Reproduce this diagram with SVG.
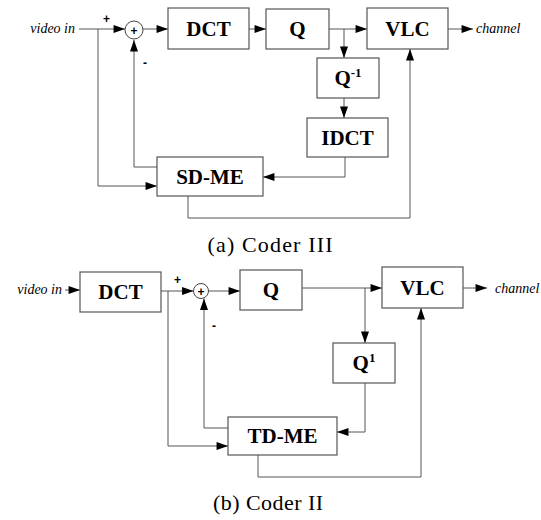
<svg xmlns="http://www.w3.org/2000/svg" width="541" height="520" viewBox="0 0 541 520">
<defs>
<marker id="ah" viewBox="0 0 10 7" refX="10" refY="3.5" markerWidth="12" markerHeight="8" markerUnits="userSpaceOnUse" orient="auto">
<path d="M0,0 L10,3.5 L0,7 z" fill="#000"/>
</marker>
<style>
.box{fill:#fff;stroke:#555;stroke-width:1.2}
.sum{fill:#fff;stroke:#444;stroke-width:1}
.ln{fill:none;stroke:#555;stroke-width:1}
.arr{fill:none;stroke:#555;stroke-width:1;marker-end:url(#ah)}
.lbl{font-family:"Liberation Serif","Times New Roman",serif;font-weight:bold;font-size:21px;text-anchor:middle;fill:#000}
.sup{font-size:13px}
.io{font-family:"Liberation Serif","Times New Roman",serif;font-style:italic;font-size:14px;fill:#000}
.sgn{font-family:"Liberation Sans",Arial,sans-serif;font-weight:bold;font-size:12px;fill:#000}
.pl{font-family:"Liberation Sans",Arial,sans-serif;font-weight:bold;font-size:12px;text-anchor:middle;fill:#000}
.cap{font-family:"Liberation Serif","Times New Roman",serif;font-size:22px;text-anchor:middle;fill:#000}
</style>
</defs>
<rect width="541" height="520" fill="#fff"/>

<!-- Coder III -->
<g id="connectors-a">
<line class="arr" x1="79" y1="29" x2="125" y2="29"/>
<line class="arr" x1="143" y1="29" x2="168" y2="29"/>
<line class="arr" x1="249" y1="29" x2="266" y2="29"/>
<line class="arr" x1="329" y1="29" x2="367" y2="29"/>
<line class="arr" x1="344" y1="29" x2="344" y2="58"/>
<line class="arr" x1="344" y1="98" x2="344" y2="118"/>
<polyline class="arr" points="345,157 345,177 263,177"/>
<polyline class="arr" points="188,196 188,218 410,218 410,49"/>
<line class="arr" x1="448" y1="29" x2="473" y2="29"/>
<polyline class="arr" points="98,29 98,186 157,186"/>
<polyline class="arr" points="157,167 134,167 134,40"/>
</g>
<g id="videoin-a"><text class="io" x="75" y="33" text-anchor="end">video in</text></g>
<g id="sum-a">
<circle class="sum" cx="134" cy="30" r="9"/>
<text class="pl" x="134" y="34.5">+</text>
<text class="sgn" x="103" y="23">+</text>
<text class="sgn" x="143" y="67">-</text>
</g>
<g id="dct-a"><rect class="box" x="168" y="8" width="81" height="41"/><text class="lbl" x="208.5" y="36">DCT</text></g>
<g id="q-a"><rect class="box" x="266" y="9" width="63" height="40"/><text class="lbl" x="297.5" y="36">Q</text></g>
<g id="vlc-a"><rect class="box" x="367" y="8" width="81" height="41"/><text class="lbl" x="407.5" y="36">VLC</text></g>
<g id="channel-a"><text class="io" x="476" y="33">channel</text></g>
<g id="qinv-a"><rect class="box" x="317" y="58" width="62" height="40"/><text class="lbl" x="348" y="85">Q<tspan class="sup" dy="-8">-1</tspan></text></g>
<g id="idct-a"><rect class="box" x="307" y="118" width="81" height="39"/><text class="lbl" x="347.5" y="145">IDCT</text></g>
<g id="sdme-a"><rect class="box" x="157" y="157" width="106" height="39"/><text class="lbl" x="210" y="184">SD-ME</text></g>
<text class="cap" x="270" y="252" textLength="125" lengthAdjust="spacing">(a) Coder III</text>

<!-- Coder II -->
<g id="connectors-b">
<line class="arr" x1="65" y1="290" x2="80" y2="290"/>
<line class="arr" x1="161" y1="291" x2="193.5" y2="291"/>
<line class="arr" x1="208.5" y1="291" x2="240" y2="291"/>
<line class="arr" x1="302" y1="288" x2="382" y2="288"/>
<line class="arr" x1="365" y1="288" x2="365" y2="343"/>
<polyline class="arr" points="365,383 365,432 337,432"/>
<polyline class="arr" points="258,455 258,477 421,477 421,308"/>
<line class="arr" x1="463" y1="288" x2="487" y2="288"/>
<polyline class="arr" points="168,291 168,446 228,446"/>
<polyline class="arr" points="228,428 204,428 204,298.5"/>
</g>
<g id="videoin-b"><text class="io" x="62" y="294" text-anchor="end">video in</text></g>
<g id="dct-b"><rect class="box" x="80" y="272" width="81" height="40"/><text class="lbl" x="120.5" y="299">DCT</text></g>
<g id="sum-b">
<circle class="sum" cx="201" cy="291" r="7.5"/>
<text class="pl" x="201" y="295.5">+</text>
<text class="sgn" x="174" y="284">+</text>
<text class="sgn" x="212" y="330">-</text>
</g>
<g id="q-b"><rect class="box" x="240" y="270" width="62" height="40"/><text class="lbl" x="271" y="297">Q</text></g>
<g id="vlc-b"><rect class="box" x="382" y="267" width="81" height="41"/><text class="lbl" x="422.5" y="295">VLC</text></g>
<g id="channel-b"><text class="io" x="495" y="293">channel</text></g>
<g id="qinv-b"><rect class="box" x="333" y="343" width="62" height="40"/><text class="lbl" x="364" y="370">Q<tspan class="sup" dy="-8">1</tspan></text></g>
<g id="tdme-b"><rect class="box" x="228" y="417" width="109" height="38"/><text class="lbl" x="282.5" y="443">TD-ME</text></g>
<text class="cap" x="268" y="510" textLength="110" lengthAdjust="spacing">(b) Coder II</text>
</svg>
